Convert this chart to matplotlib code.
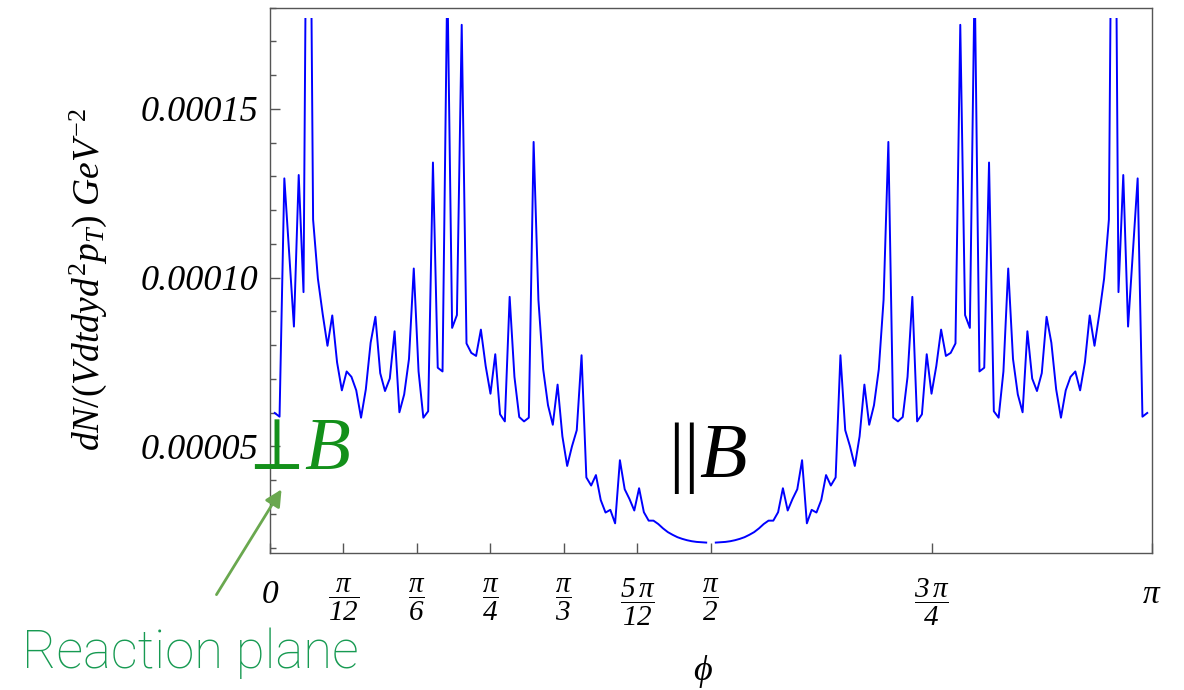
import numpy as np
import matplotlib
matplotlib.use('Agg')
import matplotlib.pyplot as plt
from matplotlib.patches import Rectangle
from matplotlib.ticker import MultipleLocator

plt.rcParams['mathtext.fontset'] = 'custom'
plt.rcParams['mathtext.rm'] = 'Liberation Serif'
plt.rcParams['mathtext.it'] = 'Liberation Serif:italic'
plt.rcParams['mathtext.bf'] = 'Liberation Serif:bold'
# \mathsf is used for italic digits in the tick labels
plt.rcParams['mathtext.sf'] = 'Liberation Serif:italic'

# sampling grid: phi = k*pi/184, the point at phi = pi/2 (k = 92) is missing
n_div = 184
k_left = list(range(1, 92))
k_right = list(range(93, 184))

# dN/(V dt dy d^2 p_T) in units of 1e-5 GeV^-2 (peaks above the frame are estimates)
dn_left = [5.99, 5.88, 12.94, 10.75, 8.55, 13.04, 9.57, 30.0, 11.72, 9.97,
           8.92, 7.98, 8.88, 7.49, 6.66, 7.22, 7.06, 6.66, 5.85, 6.69,
           8.07, 8.84, 7.17, 6.64, 7.01, 8.41, 6.01, 6.54, 7.59, 10.27,
           7.22, 5.85, 6.04, 13.41, 7.33, 7.22, 19.0, 8.51, 8.89, 17.49,
           8.05, 7.77, 7.68, 8.46, 7.38, 6.56, 7.73, 5.95, 5.74, 9.43,
           7.06, 5.87, 5.74, 5.85, 14.02, 9.34, 7.28, 6.22, 5.64, 6.83,
           5.30, 4.42, 5.00, 5.48, 7.70, 4.08, 3.84, 4.15, 3.41, 3.04,
           3.12, 2.72, 4.59, 3.73, 3.44, 3.10, 3.76, 3.05, 2.80, 2.80,
           2.70, 2.57, 2.46, 2.38, 2.31, 2.26, 2.22, 2.19, 2.17, 2.16,
           2.15]
dn_right = [2.15, 2.16, 2.17, 2.19, 2.22, 2.26, 2.31, 2.38, 2.46, 2.57,
            2.70, 2.80, 2.80, 3.05, 3.76, 3.10, 3.44, 3.73, 4.59, 2.72,
            3.12, 3.04, 3.41, 4.15, 3.84, 4.08, 7.70, 5.48, 5.00, 4.42,
            5.30, 6.83, 5.64, 6.22, 7.28, 9.34, 14.02, 5.85, 5.74, 5.87,
            7.06, 9.43, 5.74, 5.95, 7.73, 6.56, 7.38, 8.46, 7.68, 7.77,
            8.05, 17.49, 8.89, 8.51, 19.0, 7.22, 7.33, 13.41, 6.04, 5.85,
            7.22, 10.27, 7.59, 6.54, 6.01, 8.41, 7.01, 6.64, 7.17, 8.84,
            8.07, 6.69, 5.85, 6.66, 7.06, 7.22, 6.66, 7.49, 8.88, 7.98,
            8.92, 9.97, 11.72, 30.0, 9.57, 13.04, 8.55, 10.75, 12.94, 5.88,
            5.99]

x_ticks = [0, 1/12, 1/6, 1/4, 1/3, 5/12, 1/2, 3/4, 1]   # in units of pi
x_ticklabels = [r'$\mathsf{0}$', r'$\dfrac{\pi}{\mathsf{12}}$', r'$\dfrac{\pi}{\mathsf{6}}$',
                r'$\dfrac{\pi}{\mathsf{4}}$', r'$\dfrac{\pi}{\mathsf{3}}$',
                r'$\dfrac{\mathsf{5}\,\pi}{\mathsf{12}}$', r'$\dfrac{\pi}{\mathsf{2}}$',
                r'$\dfrac{\mathsf{3}\,\pi}{\mathsf{4}}$', r'$\pi$']
y_ticks = [5e-5, 10e-5, 15e-5]
y_ticklabels = ['0.00005', '0.00010', '0.00015']

frame_c = '#555555'
green_b = '#13901a'

fig = plt.figure(figsize=(11.84, 6.9), dpi=100)
ax = fig.add_axes([0.228, 0.198, 0.745, 0.791])

phi = np.array(k_left + [n_div // 2] + k_right) * np.pi / n_div
dn = np.array(dn_left + [np.nan] + dn_right) * 1e-5
line, = ax.plot(phi, dn, color='#0000ff', lw=1.4)

ymin, ymax, yclip = 1.83e-5, 1.80e-4, 1.77e-4
clip = Rectangle((0, ymin), np.pi, yclip - ymin, transform=ax.transData)
line.set_clip_path(clip)

ax.set_xlim(0, np.pi)
ax.set_ylim(ymin, ymax)
ax.set_xticks([t * np.pi for t in x_ticks])
ax.set_xticklabels(x_ticklabels, fontsize=21)
ax.set_yticks(y_ticks)
ax.set_yticklabels(y_ticklabels, fontsize=26, fontstyle='italic', family='Liberation Serif')
ax.yaxis.set_minor_locator(MultipleLocator(1e-5))

ax.tick_params(which='both', direction='in', color=frame_c, width=1)
ax.tick_params(which='major', length=7)
ax.tick_params(which='minor', length=4.5)
ax.tick_params(axis='x', pad=17)
ax.tick_params(axis='y', pad=8.5)
labs = ax.get_xticklabels()
labs[0].set_fontsize(24)
labs[-1].set_fontsize(24)

for s in ax.spines.values():
    s.set_color(frame_c)
    s.set_linewidth(1.0)

W, H = 1184, 690
fig.text(88 / W, 1 - 280 / H, r'$dN/(Vdtdyd^2p_T)\ GeV^{-2}$', rotation=90,
         ha='center', va='center', fontsize=27)
fig.text(703 / W, 1 - 672 / H, r'$\phi$', ha='center', va='center', fontsize=26)

# annotations
fig.text(240 / W, 1 - 469 / H, r'$\perp\!B$', color=green_b, fontsize=54,
         ha='left', va='baseline')
fig.text(668 / W, 1 - 477 / H, r'$||B$', color='black', fontsize=56,
         ha='left', va='baseline')
ax.annotate('', xy=(283 / W, 1 - 487 / H), xycoords='figure fraction',
            xytext=(215 / W, 1 - 597 / H), textcoords='figure fraction',
            arrowprops=dict(arrowstyle='-|>', color='#6aa84f', lw=2, mutation_scale=25))
fig.text(22 / W, 1 - 668 / H, 'Reaction plane', color='#179a52', fontsize=38,
         family='Roboto', fontweight='light', ha='left', va='baseline')

fig.savefig('out.png', dpi=100)
